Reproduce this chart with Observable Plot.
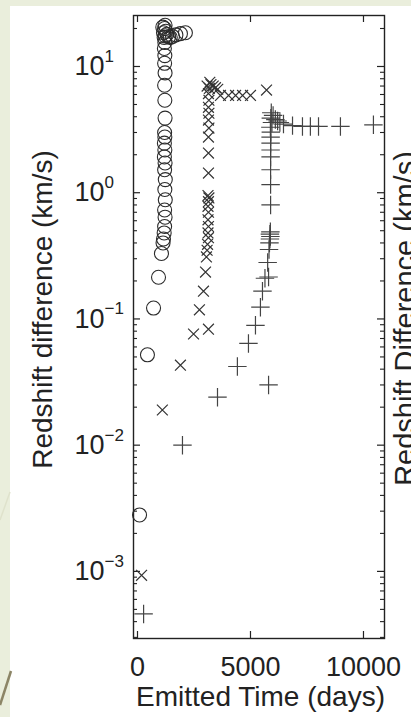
<!DOCTYPE html>
<html><head><meta charset="utf-8">
<script src="https://cdn.jsdelivr.net/npm/d3@7"></script>
<script src="https://cdn.jsdelivr.net/npm/@observablehq/plot@0.6"></script>
<style>
html,body{margin:0;padding:0;overflow:hidden;width:411px;height:717px;background:#eaeedc;}
#panel{position:absolute;left:10px;top:6px;right:0;bottom:0;background:#fff;}
#deco{position:absolute;left:0;top:0;}
#chart{position:absolute;left:0;top:0;}
</style></head><body>
<div id="panel"></div>
<svg id="deco" width="411" height="717">
  <line x1="0" y1="520" x2="10" y2="492" stroke="#dfe2cc" stroke-width="1.5"/>
  <line x1="0" y1="705" x2="11" y2="671" stroke="#8c8566" stroke-width="2.5"/>
</svg>
<div id="chart"></div>
<script>
// [emitted time (days), redshift difference (km/s)]
const circleData = [
  [90,0.0028],[440,0.052],[710,0.122],[930,0.214],[1060,0.33],
  [1130,0.40],[1150,0.43],[1180,0.48],[1200,0.54],[1220,0.64],[1200,0.73],
  [1230,0.88],[1210,1.06],[1230,1.27],[1200,1.52],[1220,1.72],[1190,1.92],
  [1210,2.18],[1190,2.47],[1210,2.76],[1200,3.0],[1220,3.9],[1210,5.4],
  [1200,7.1],[1220,8.9],[1200,10.6],[1210,12.2],[1190,13.9],[1210,15.5],
  [1180,17.0],[1230,17.5],[1150,18.5],[1250,19.0],[1200,20.0],[1120,20.5],
  [1220,21.2],[1300,18.0],[1380,17.2],[1450,17.0],[1550,17.3],[1700,17.8],
  [1900,18.2],[2120,18.5]
];
const timesData = [
  [180,0.00093],[1100,0.019],[1900,0.043],[2480,0.076],[3140,0.083],
  [2740,0.118],[2920,0.166],[3010,0.235],[3050,0.31],[3080,0.35],[3100,0.39],
  [3140,0.44],[3120,0.48],[3140,0.54],[3120,0.61],[3140,0.70],[3120,0.78],
  [3140,0.85],[3160,0.91],[3120,0.95],[3140,1.43],[3140,2.06],[3140,2.76],
  [3160,3.25],[3140,3.76],[3160,4.26],[3140,4.75],[3160,5.4],[3140,6.1],
  [3180,6.7],[3080,7.0],[3250,7.2],[3350,7.0],[3450,6.8],[3550,6.6],[3200,7.5],
  [3670,5.9],[4030,5.9],[4340,5.9],[4650,5.9],[5000,5.9],[5710,6.5]
];
const plusData = [
  [270,0.00046],[1990,0.010],[3540,0.024],[4420,0.042],[4910,0.064],
  [5220,0.089],[5440,0.124],[5530,0.166],[5640,0.21],[5800,0.215],[5760,0.28],
  [5800,0.030],[5820,0.355],[5840,0.40],[5860,0.43],[5880,0.45],[5860,0.47],
  [5880,0.49],[5890,0.80],[5890,1.16],[5890,1.52],[5890,1.92],[5890,2.18],
  [5890,2.47],[5890,2.76],[5900,3.02],[5880,3.3],[5950,3.6],[5900,3.9],
  [6000,4.1],[5920,4.3],[6100,3.8],[6200,3.7],[6300,3.6],[6460,3.5],
  [6860,3.4],[7300,3.35],[7650,3.35],[8010,3.35],[8980,3.35],[10440,3.45]
];
const xTicks = [0, 5000, 10000];
const xTickLabels = ["0", "5000", "10000"];
const yTicks = [1e-3, 1e-2, 1e-1, 1e0, 1e1];
const yExponents = ["\u22123", "\u22122", "\u22121", "0", "1"];
const xLabel = "Emitted Time (days)";
const yLabel = "Redshift difference (km/s)";
const rightLabel = "Redshift Difference (km/s)";
const xDomain = [-177, 10930];
const yDomain = [2.94e-4, 25.35];

const W = 411, H = 717, mL = 133, mR = 27, mT = 15, mB = 79;
const fw = W - mL - mR, fh = H - mT - mB;
const ink = "#222";
const font = "'Liberation Sans', Arial, Helvetica, sans-serif";

const yMinor = [];
for (let e = -4; e <= 1; e++) for (let m = 2; m <= 9; m++) {
  const v = m * Math.pow(10, e);
  if (v >= yDomain[0] && v <= yDomain[1]) yMinor.push(v);
}
const toRows = arr => arr.map(([t, v]) => ({t, v}));

const chart = Plot.plot({
  width: W, height: H,
  marginLeft: mL, marginRight: mR, marginTop: mT, marginBottom: mB,
  style: {background: "transparent", overflow: "visible", fontFamily: font},
  x: {domain: xDomain, axis: null},
  y: {type: "log", domain: yDomain, axis: null},
  marks: [
    Plot.tickY(yTicks, {y: d => d, insetRight: fw - 7, stroke: ink, strokeWidth: 1.2}),
    Plot.tickY(yTicks, {y: d => d, insetLeft: fw - 7, stroke: ink, strokeWidth: 1.2}),
    Plot.tickY(yMinor, {y: d => d, insetRight: fw - 4, stroke: ink, strokeWidth: 1.1}),
    Plot.tickY(yMinor, {y: d => d, insetLeft: fw - 4, stroke: ink, strokeWidth: 1.1}),
    Plot.tickX(xTicks, {x: d => d, insetTop: fh - 7, stroke: ink, strokeWidth: 1.2}),
    Plot.tickX(xTicks, {x: d => d, insetBottom: fh - 7, stroke: ink, strokeWidth: 1.2}),
    Plot.frame({stroke: ink, strokeWidth: 1.4}),
    Plot.dot(toRows(circleData), {x: "t", y: "v", r: 7, symbol: "circle", fill: "none", stroke: "#2b2b2b", strokeWidth: 1.1}),
    Plot.dot(toRows(timesData), {x: "t", y: "v", r: 5, symbol: "times", stroke: "#333", strokeWidth: 1.2}),
    Plot.dot(toRows(plusData), {x: "t", y: "v", r: 6, symbol: "plus", stroke: "#444", strokeWidth: 1.2}),
    Plot.text(yTicks, {y: d => d, text: () => "10", frameAnchor: "left", dx: -59, textAnchor: "start", fontSize: 27, fontFamily: font, fill: ink}),
    Plot.text(yTicks, {y: d => d, text: (d, i) => yExponents[i], frameAnchor: "left", dx: -29, dy: -10, textAnchor: "start", fontSize: 17, fontFamily: font, fill: ink}),
    Plot.text(xTicks, {x: d => d, text: (d, i) => xTickLabels[i], frameAnchor: "bottom", dy: 37, lineAnchor: "bottom", textAnchor: "middle", fontSize: 27, fontFamily: font, fill: ink}),
    Plot.text([xLabel], {frameAnchor: "bottom", dy: 67, dx: 1.5, lineAnchor: "bottom", textAnchor: "middle", fontSize: 28, fontFamily: font, fill: ink}),
    Plot.text([yLabel], {frameAnchor: "left", dx: -82, dy: -17.5, rotate: -90, lineAnchor: "bottom", textAnchor: "middle", fontSize: 28, fontFamily: font, fill: ink}),
    Plot.text([rightLabel], {frameAnchor: "right", dx: 30, dy: -8.5, rotate: -90, lineAnchor: "bottom", textAnchor: "middle", fontSize: 29, fontFamily: font, fill: ink})
  ]
});
document.getElementById("chart").appendChild(chart);
</script>
</body></html>
